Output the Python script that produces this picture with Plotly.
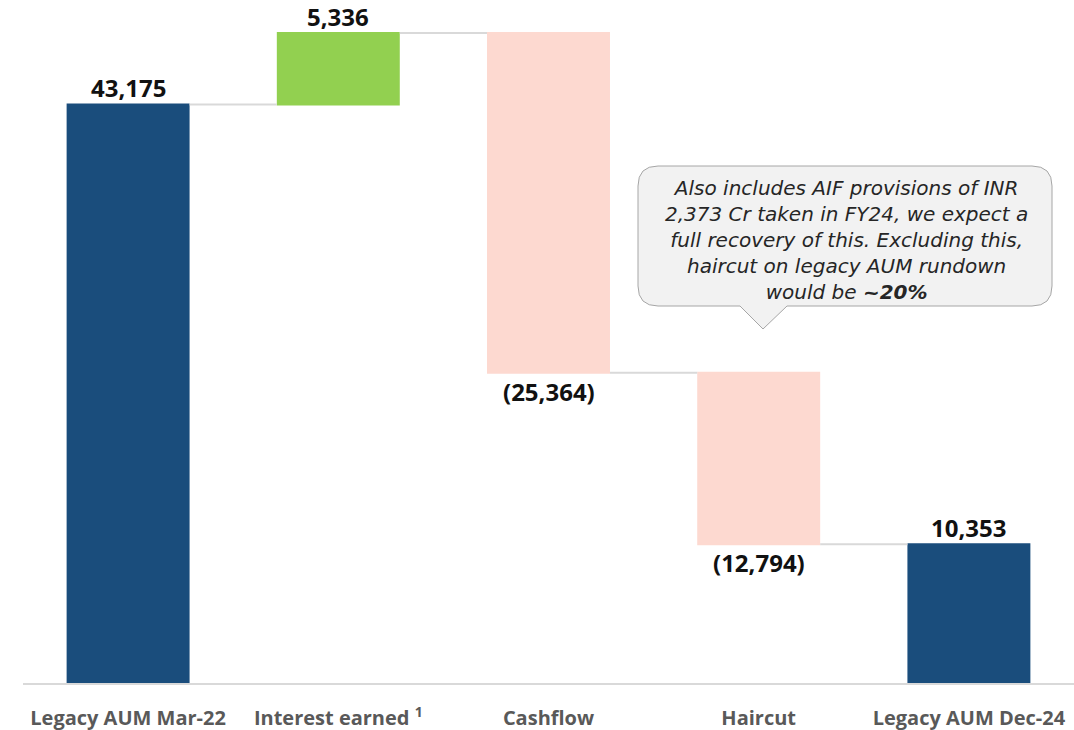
import plotly.graph_objects as go

categories = ["Legacy AUM Mar-22", "Interest earned <sup>1</sup>", "Cashflow", "Haircut", "Legacy AUM Dec-24"]
values = [43175, 5336, -25364, -12794, 10353]
measures = ["absolute", "relative", "relative", "relative", "total"]

def fmt(v):
    return f"({abs(v):,})" if v < 0 else f"{v:,}"

labels = [fmt(v) for v in values]

callout_lines = [
    "Also includes AIF provisions of INR",
    "2,373 Cr taken in FY24, we expect a",
    "full recovery of this. Excluding this,",
    "haircut on legacy AUM rundown",
    "would be <b>~20%</b>",
]

W, H = 1074, 730
ML, MR, MT, MB = 23, 0, 13, 47
PW, PH = W - ML - MR, H - MT - MB

fig = go.Figure(go.Waterfall(
    x=categories,
    y=values,
    measure=measures,
    width=0.585,
    increasing=dict(marker=dict(color="#92D050")),
    decreasing=dict(marker=dict(color="#FDD9D0")),
    totals=dict(marker=dict(color="#1A4D7C")),
    connector=dict(line=dict(color="#D9D9D9", width=2)),
    cliponaxis=False,
    hoverinfo="skip",
))

# value labels at the end of each bar
level = 0
for cat, v, m, lab in zip(categories, values, measures, labels):
    if m == "absolute" or m == "total":
        level = v
    else:
        level += v
    below = m == "relative" and v < 0
    fig.add_annotation(
        x=cat, y=level, xref="x", yref="y", showarrow=False,
        text=f"<b>{lab}</b>",
        yanchor="top" if below else "bottom",
        yshift=0 if below else -2,
        font=dict(family="Noto Sans", size=24, color="#111111"),
    )

def px(x):
    return (x - ML) / PW

def py(y):
    return (H - MB - y) / PH

# callout box (pixel geometry -> paper coords)
x0, x1, y0, y1, r = 638, 1052, 166, 306, 20
tx0, tx1, tipx, tipy = 740, 787, 763, 329
path = (
    f"M {px(x0 + r)},{py(y0)} L {px(x1 - r)},{py(y0)} "
    f"Q {px(x1)},{py(y0)} {px(x1)},{py(y0 + r)} "
    f"L {px(x1)},{py(y1 - r)} Q {px(x1)},{py(y1)} {px(x1 - r)},{py(y1)} "
    f"L {px(tx1)},{py(y1)} L {px(tipx)},{py(tipy)} L {px(tx0)},{py(y1)} "
    f"L {px(x0 + r)},{py(y1)} Q {px(x0)},{py(y1)} {px(x0)},{py(y1 - r)} "
    f"L {px(x0)},{py(y0 + r)} Q {px(x0)},{py(y0)} {px(x0 + r)},{py(y0)} Z"
)
fig.add_shape(type="path", path=path, xref="paper", yref="paper",
              fillcolor="#F2F2F2", line=dict(color="#A6A6A6", width=1), layer="above")

fig.add_annotation(
    x=px(846), y=py(240), xref="paper", yref="paper",
    xanchor="center", yanchor="middle",
    text="<br>".join(f"<i>{l}</i>" for l in callout_lines),
    showarrow=False, align="center",
    font=dict(family="DejaVu Sans", size=20, color="#262626"),
)

fig.update_layout(
    width=W, height=H,
    margin=dict(l=ML, r=MR, t=MT, b=MB),
    plot_bgcolor="white", paper_bgcolor="white",
    showlegend=False,
    xaxis=dict(showgrid=False, showline=True, linecolor="#D9D9D9", linewidth=2,
               tickfont=dict(family="Open Sans", size=20, color="#595959", weight="bold"),
               ticks="", ticklabelstandoff=16),
    yaxis=dict(range=[0, 50000], visible=False, showgrid=False),
)

fig.write_html("out.html", post_script="document.body.style.margin='0';",
               config={"displayModeBar": False})
